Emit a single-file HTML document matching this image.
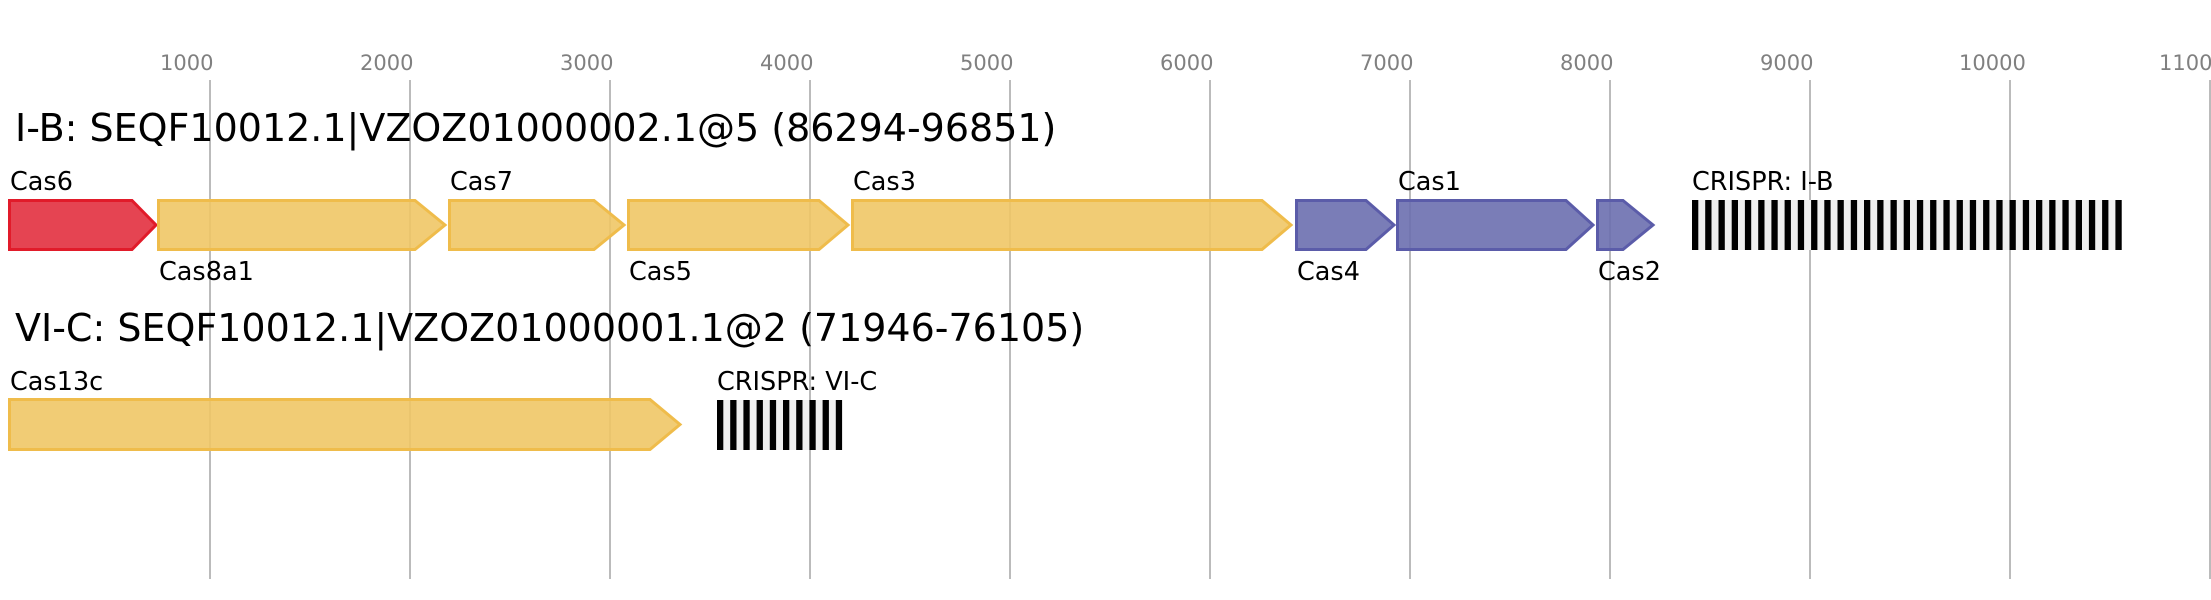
<!DOCTYPE html>
<html>
<head>
<meta charset="utf-8">
<style>
html,body{margin:0;padding:0;background:#fff;}
svg{display:block;}
text{font-family:"DejaVu Sans","Liberation Sans",sans-serif;}
</style>
</head>
<body>
<svg width="2211" height="600" viewBox="0 0 2211 600" xmlns="http://www.w3.org/2000/svg">
<rect x="0" y="0" width="2211" height="600" fill="#fff"/>
<!-- grid lines -->
<g stroke="#bbbbbb" stroke-width="2">
<line x1="210" y1="80" x2="210" y2="579"/>
<line x1="410" y1="80" x2="410" y2="579"/>
<line x1="610" y1="80" x2="610" y2="579"/>
<line x1="810" y1="80" x2="810" y2="579"/>
<line x1="1010" y1="80" x2="1010" y2="579"/>
<line x1="1210" y1="80" x2="1210" y2="579"/>
<line x1="1410" y1="80" x2="1410" y2="579"/>
<line x1="1610" y1="80" x2="1610" y2="579"/>
<line x1="1810" y1="80" x2="1810" y2="579"/>
<line x1="2010" y1="80" x2="2010" y2="579"/>
<line x1="2210" y1="80" x2="2210" y2="579"/>
</g>
<g fill="#808080" font-size="21">
<text x="160" y="70">1000</text>
<text x="360" y="70">2000</text>
<text x="560" y="70">3000</text>
<text x="760" y="70">4000</text>
<text x="960" y="70">5000</text>
<text x="1160" y="70">6000</text>
<text x="1360" y="70">7000</text>
<text x="1560" y="70">8000</text>
<text x="1760" y="70">9000</text>
<text x="1959" y="70">10000</text>
<text x="2159" y="70">11000</text>
</g>

<!-- titles -->
<text x="15" y="141" font-size="38" fill="#000">I-B: SEQF10012.1|VZOZ01000002.1@5 (86294-96851)</text>
<text x="15" y="341" font-size="38" fill="#000">VI-C: SEQF10012.1|VZOZ01000001.1@2 (71946-76105)</text>

<!-- row 1 genes -->
<g stroke-width="3" stroke-linejoin="miter">
<polygon points="9.5,200.5 132,200.5 156,225 132,249.5 9.5,249.5" fill="rgb(226,48,63)" fill-opacity="0.9" stroke="rgb(225,27,42)"/>
<polygon points="158.5,200.5 415,200.5 445,225 415,249.5 158.5,249.5" fill="rgb(239,199,102)" fill-opacity="0.9" stroke="rgb(239,188,75)"/>
<polygon points="449.5,200.5 594,200.5 624,225 594,249.5 449.5,249.5" fill="rgb(239,199,102)" fill-opacity="0.9" stroke="rgb(239,188,75)"/>
<polygon points="628.5,200.5 819,200.5 848,225 819,249.5 628.5,249.5" fill="rgb(239,199,102)" fill-opacity="0.9" stroke="rgb(239,188,75)"/>
<polygon points="852.5,200.5 1262,200.5 1291,225 1262,249.5 852.5,249.5" fill="rgb(239,199,102)" fill-opacity="0.9" stroke="rgb(239,188,75)"/>
<polygon points="1296.5,200.5 1366,200.5 1394,225 1366,249.5 1296.5,249.5" fill="rgb(108,111,175)" fill-opacity="0.9" stroke="rgb(91,92,169)"/>
<polygon points="1397.5,200.5 1566,200.5 1593,225 1566,249.5 1397.5,249.5" fill="rgb(108,111,175)" fill-opacity="0.9" stroke="rgb(91,92,169)"/>
<polygon points="1597.5,200.5 1623,200.5 1653,225 1623,249.5 1597.5,249.5" fill="rgb(108,111,175)" fill-opacity="0.9" stroke="rgb(91,92,169)"/>
</g>

<!-- CRISPR I-B -->
<rect x="1692" y="200" width="430" height="50" fill="#efefef"/>
<g fill="#000">
<rect x="1692.0" y="200" width="6.3" height="50"/>
<rect x="1705.2" y="200" width="6.3" height="50"/>
<rect x="1718.5" y="200" width="6.3" height="50"/>
<rect x="1731.7" y="200" width="6.3" height="50"/>
<rect x="1744.9" y="200" width="6.3" height="50"/>
<rect x="1758.2" y="200" width="6.3" height="50"/>
<rect x="1771.4" y="200" width="6.3" height="50"/>
<rect x="1784.6" y="200" width="6.3" height="50"/>
<rect x="1797.8" y="200" width="6.3" height="50"/>
<rect x="1811.1" y="200" width="6.3" height="50"/>
<rect x="1824.3" y="200" width="6.3" height="50"/>
<rect x="1837.5" y="200" width="6.3" height="50"/>
<rect x="1850.8" y="200" width="6.3" height="50"/>
<rect x="1864.0" y="200" width="6.3" height="50"/>
<rect x="1877.2" y="200" width="6.3" height="50"/>
<rect x="1890.5" y="200" width="6.3" height="50"/>
<rect x="1903.7" y="200" width="6.3" height="50"/>
<rect x="1916.9" y="200" width="6.3" height="50"/>
<rect x="1930.1" y="200" width="6.3" height="50"/>
<rect x="1943.4" y="200" width="6.3" height="50"/>
<rect x="1956.6" y="200" width="6.3" height="50"/>
<rect x="1969.8" y="200" width="6.3" height="50"/>
<rect x="1983.1" y="200" width="6.3" height="50"/>
<rect x="1996.3" y="200" width="6.3" height="50"/>
<rect x="2009.5" y="200" width="6.3" height="50"/>
<rect x="2022.8" y="200" width="6.3" height="50"/>
<rect x="2036.0" y="200" width="6.3" height="50"/>
<rect x="2049.2" y="200" width="6.3" height="50"/>
<rect x="2062.4" y="200" width="6.3" height="50"/>
<rect x="2075.7" y="200" width="6.3" height="50"/>
<rect x="2088.9" y="200" width="6.3" height="50"/>
<rect x="2102.1" y="200" width="6.3" height="50"/>
<rect x="2115.4" y="200" width="6.3" height="50"/>
</g>

<!-- row 1 labels -->
<g font-size="25.5" fill="#000">
<text x="10" y="190">Cas6</text>
<text x="450" y="190">Cas7</text>
<text x="853" y="190">Cas3</text>
<text x="1398" y="190">Cas1</text>
<text x="1692" y="190">CRISPR: I-B</text>
<text x="159" y="280">Cas8a1</text>
<text x="629" y="280">Cas5</text>
<text x="1297" y="280">Cas4</text>
<text x="1598" y="280">Cas2</text>
</g>

<!-- row 2 -->
<polygon points="9.5,399.5 650,399.5 680,424.5 650,449.5 9.5,449.5" fill="rgb(239,199,102)" fill-opacity="0.9" stroke="rgb(239,188,75)" stroke-width="3"/>
<rect x="717" y="400" width="125" height="50" fill="#efefef"/>
<g fill="#000">
<rect x="717.0" y="400" width="6.3" height="50"/>
<rect x="730.2" y="400" width="6.3" height="50"/>
<rect x="743.4" y="400" width="6.3" height="50"/>
<rect x="756.6" y="400" width="6.3" height="50"/>
<rect x="769.8" y="400" width="6.3" height="50"/>
<rect x="783.0" y="400" width="6.3" height="50"/>
<rect x="796.2" y="400" width="6.3" height="50"/>
<rect x="809.4" y="400" width="6.3" height="50"/>
<rect x="822.6" y="400" width="6.3" height="50"/>
<rect x="835.8" y="400" width="6.3" height="50"/>
</g>
<g font-size="25.5" fill="#000">
<text x="10" y="390">Cas13c</text>
<text x="717" y="390">CRISPR: VI-C</text>
</g>
</svg>
</body>
</html>
